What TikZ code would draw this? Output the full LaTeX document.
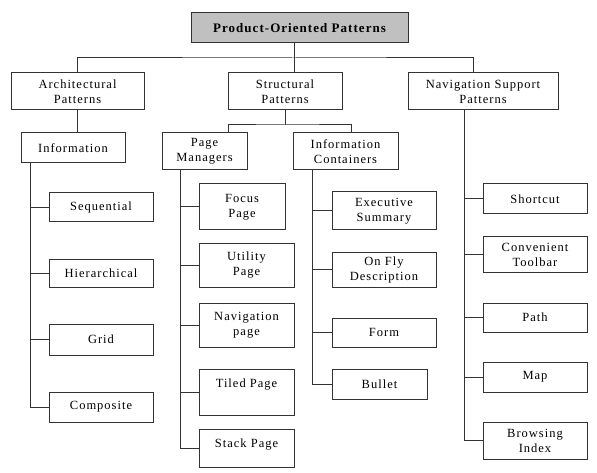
\documentclass[tikz,border=0pt]{standalone}
\usepackage{fontspec}
\setmainfont{Liberation Serif}[LetterSpace=8]
\usepackage{tikz}
\usetikzlibrary{positioning,calc}
\definecolor{LineGray}{HTML}{333333}
\definecolor{HeadGray}{HTML}{C0C0C0}

\begin{document}
\begin{tikzpicture}[x=1pt,y=-1pt,
  pbox/.style={draw=LineGray,line width=1pt,inner sep=0pt,align=center,
    font=\fontsize{12.5}{15}\selectfont},
  link/.style={draw=LineGray,line width=1pt}]
  \useasboundingbox (0,0) rectangle (597,473);

  \node[pbox,fill=HeadGray,minimum width=217,minimum height=30,
        font=\fontsize{13}{15}\selectfont\bfseries] (top) at (299.5,28)
      {Product-Oriented Patterns};

  % first level
  \node[pbox,minimum width=133,minimum height=37] (arch) at (77.5,91.5)
      {Architectural\\Patterns};
  \node[pbox,minimum width=114,minimum height=37] (struct) at (285,91.5)
      {Structural\\Patterns};
  \node[pbox,minimum width=150,minimum height=37] (nav) at (483,91.5)
      {Navigation Support\\Patterns};

  % second level
  \node[pbox,minimum width=104,minimum height=30] (info) at (73,148)
      {Information};
  \node[pbox,minimum width=85,minimum height=37] (pm) at (204.5,151.5)
      {Page\\Managers};
  \node[pbox,minimum width=105,minimum height=37] (ic) at (345.5,151.5)
      {Information\\Containers};

  % leaves under Information
  \node[pbox,minimum width=104,minimum height=29] (seq) at (101,207.5) {Sequential};
  \node[pbox,minimum width=104,minimum height=28] (hier) at (101,273) {Hierarchical};
  \node[pbox,minimum width=104,minimum height=31] (grid) at (101,339.5) {Grid};
  \node[pbox,minimum width=104,minimum height=30] (comp) at (101,407) {Composite};

  % leaves under Page Managers
  \node[pbox,minimum width=86,minimum height=46] (focus) at (242,207) {Focus\\Page};
  \node[pbox,minimum width=95,minimum height=43] (util) at (246.5,265.5) {Utility\\Page};
  \node[pbox,minimum width=95,minimum height=44] (navp) at (246.5,325) {Navigation\\page};
  \node[pbox,minimum width=95,minimum height=46,text depth=18pt] (tiled) at (246.5,392)
      {Tiled Page};
  \node[pbox,minimum width=95,minimum height=38,text depth=10pt] (stack) at (246.5,448)
      {Stack Page};

  % leaves under Information Containers
  \node[pbox,minimum width=104,minimum height=38] (exec) at (384,211) {Executive\\Summary};
  \node[pbox,minimum width=104,minimum height=35] (onfly) at (384,269.5) {On Fly\\Description};
  \node[pbox,minimum width=104,minimum height=29] (form) at (384,332.5) {Form};
  \node[pbox,minimum width=95,minimum height=30] (bullet) at (379.5,384) {Bullet};

  % leaves under Navigation Support
  \node[pbox,minimum width=104,minimum height=30] (short) at (535,199) {Shortcut};
  \node[pbox,minimum width=104,minimum height=35] (conv) at (535,254.5) {Convenient\\Toolbar};
  \node[pbox,minimum width=104,minimum height=29] (path) at (535,317.5) {Path};
  \node[pbox,minimum width=104,minimum height=30] (map) at (535,377) {Map};
  \node[pbox,minimum width=104,minimum height=37] (brows) at (535,440.5) {Browsing\\Index};

  % connectors
  \coordinate (bus) at (294,58);
  \coordinate (sbus) at (285,125);
  \draw[link] (arch.north) |- (bus) -| ([xshift=-10]nav.north);
  \draw[link] (bus |- top.south) -- (bus |- struct.north);
  \draw[link] (struct.south) -- (sbus);
  \draw[link] ([xshift=23.5]pm.north) |- (sbus) -| ([xshift=5.5]ic.north);
  \draw[link] (arch.south) -- (arch.south |- info.north);

  \foreach \c in {seq,hier,grid,comp}
    \draw[link] ([xshift=10]info.south west) |- (\c.west);
  \foreach \c in {focus,util,navp,tiled,stack}
    \draw[link] ([xshift=19]pm.south west) |- (\c.west);
  \foreach \c in {exec,onfly,form,bullet}
    \draw[link] ([xshift=20]ic.south west) |- (\c.west);
  \foreach \c in {short,conv,path,map,brows}
    \draw[link] ([xshift=-19]nav.south) |- (\c.west);
\end{tikzpicture}
\end{document}
